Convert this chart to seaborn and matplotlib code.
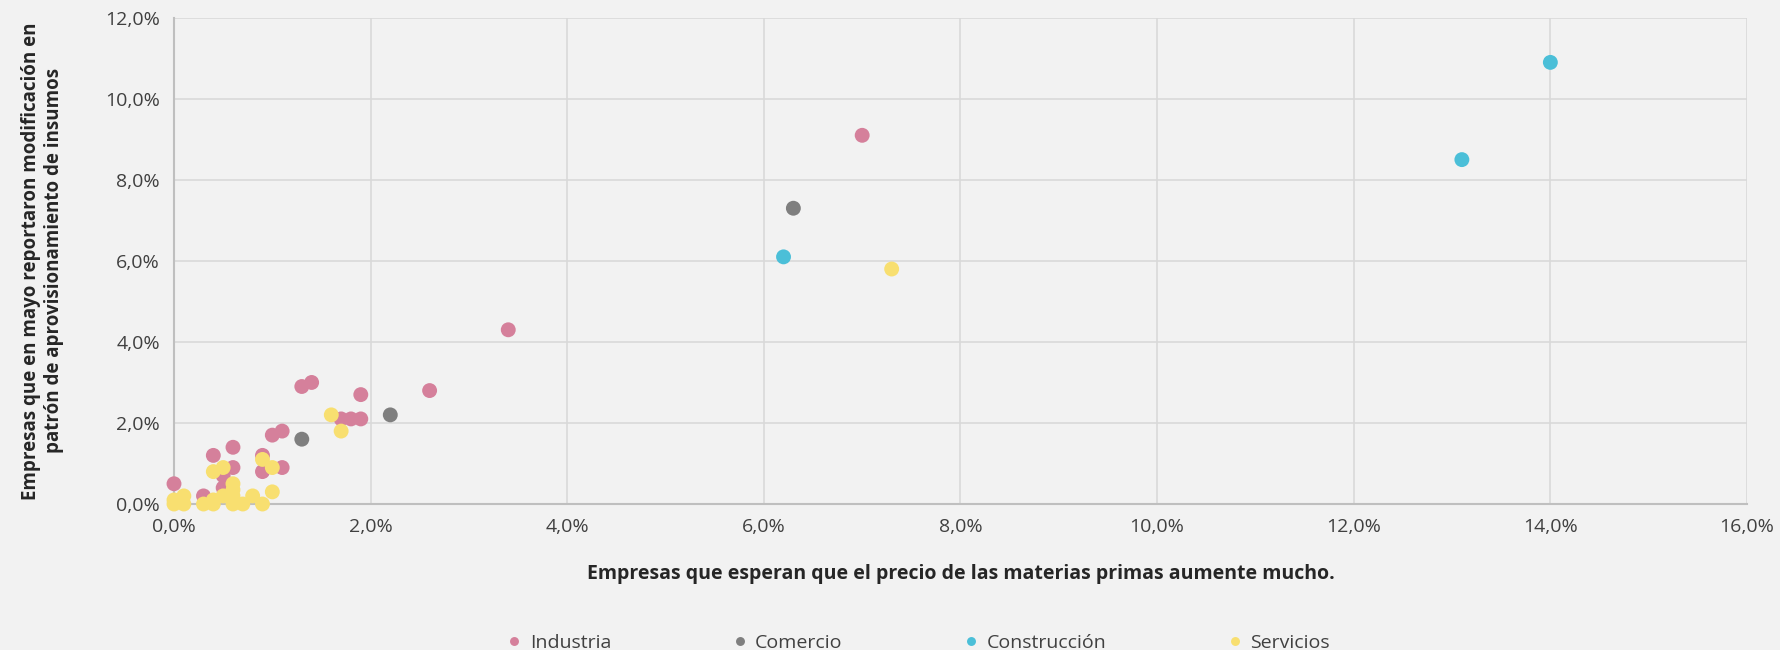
import pandas as pd
import matplotlib.pyplot as plt
import seaborn as sns
from matplotlib.ticker import FuncFormatter, MultipleLocator

# valores en % (x: esperan alza fuerte de materias primas, y: modificaron aprovisionamiento)
industria_x = [0.0, 0.3, 0.4, 0.5, 0.5, 0.6, 0.6, 0.9, 0.9, 1.0, 1.1, 1.1,
               1.3, 1.4, 1.7, 1.8, 1.9, 1.9, 2.6, 3.4, 7.0]
industria_y = [0.5, 0.2, 1.2, 0.4, 0.7, 1.4, 0.9, 1.2, 0.8, 1.7, 1.8, 0.9,
               2.9, 3.0, 2.1, 2.1, 2.1, 2.7, 2.8, 4.3, 9.1]
comercio_x = [1.3, 2.2, 6.3]
comercio_y = [1.6, 2.2, 7.3]
construccion_x = [6.2, 13.1, 14.0]
construccion_y = [6.1, 8.5, 10.9]
servicios_x = [0.0, 0.0, 0.1, 0.1, 0.3, 0.4, 0.4, 0.4, 0.5, 0.5, 0.6, 0.6, 0.6,
               0.6, 0.7, 0.8, 0.9, 0.9, 1.0, 1.0, 1.6, 1.7, 7.3]
servicios_y = [0.0, 0.1, 0.0, 0.2, 0.0, 0.0, 0.1, 0.8, 0.2, 0.9, 0.0, 0.2, 0.35,
               0.5, 0.0, 0.2, 0.0, 1.1, 0.3, 0.9, 2.2, 1.8, 5.8]

sectores = ['Industria', 'Comercio', 'Construcción', 'Servicios']
colores = ['#d5809b', '#7f7f7f', '#4bbfd8', '#f8df70']

frames = []
for nombre, xs, ys in zip(sectores,
                          [industria_x, comercio_x, construccion_x, servicios_x],
                          [industria_y, comercio_y, construccion_y, servicios_y]):
    frames.append(pd.DataFrame({'x': xs, 'y': ys, 'sector': nombre}))
df = pd.concat(frames, ignore_index=True)

sns.set_style('white')
plt.rcParams['font.family'] = ['Open Sans', 'DejaVu Sans']
bg = '#f2f2f2'

fig = plt.figure(figsize=(17.81, 6.5), dpi=100, facecolor=bg)
ax = fig.add_axes([0.0977, 0.2246, 0.8832, 0.748])
ax.set_facecolor(bg)

sns.scatterplot(data=df, x='x', y='y', hue='sector', hue_order=sectores,
                palette=colores, s=115, edgecolor='none', ax=ax, legend=True,
                zorder=3, clip_on=False)

ax.set_xlim(0, 16)
ax.set_ylim(0, 12)
ax.xaxis.set_major_locator(MultipleLocator(2))
ax.yaxis.set_major_locator(MultipleLocator(2))
fmt = FuncFormatter(lambda v, p: f"{v:.1f}%".replace('.', ','))
ax.xaxis.set_major_formatter(fmt)
ax.yaxis.set_major_formatter(fmt)
ax.tick_params(axis='both', labelsize=14, colors='#404040', length=0, pad=10)
ax.grid(True, color='#d9d9d9', linewidth=1.2, zorder=0)
ax.set_axisbelow(True)
for side in ['top', 'right']:
    ax.spines[side].set_visible(False)
for side in ['left', 'bottom']:
    ax.spines[side].set_color('#bfbfbf')
    ax.spines[side].set_linewidth(1.5)

ax.set_xlabel('Empresas que esperan que el precio de las materias primas aumente mucho.',
              fontsize=14, fontweight='bold', color='#262626', labelpad=20)
ax.set_ylabel('Empresas que en mayo reportaron modificación en\npatrón de aprovisionamiento de insumos',
              fontsize=13.5, fontweight='bold', color='#262626', labelpad=30)

handles, labels = ax.get_legend_handles_labels()
ax.get_legend().remove()
fig.legend(handles, labels, loc='lower center', bbox_to_anchor=(0.515, -0.03), ncol=4,
           frameon=False, fontsize=14, labelcolor='#404040', markerscale=0.6,
           handlelength=1.0, handletextpad=0.3, columnspacing=6.1)

fig.savefig('out.png', dpi=100, facecolor=bg)
